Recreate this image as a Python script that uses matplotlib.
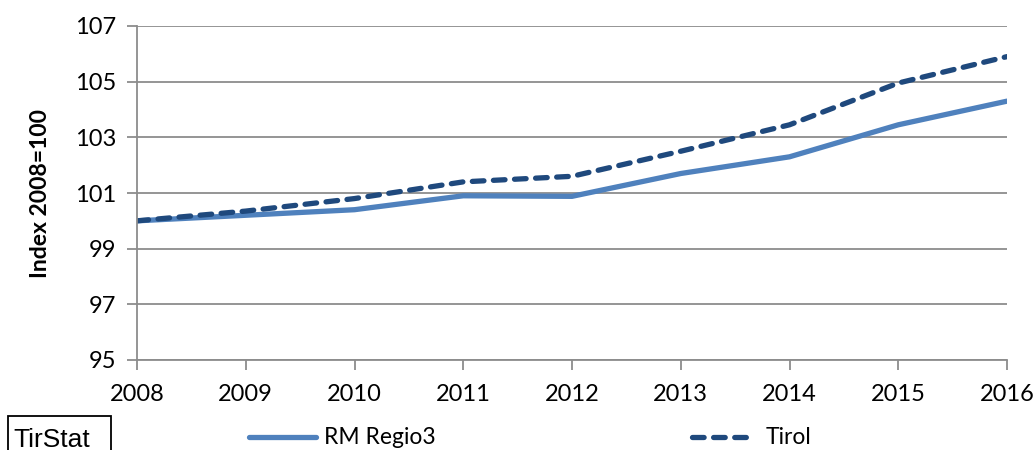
import matplotlib
matplotlib.use("Agg")
import matplotlib.pyplot as plt
from matplotlib.lines import Line2D
from matplotlib.patches import Rectangle

years = [2008, 2009, 2010, 2011, 2012, 2013, 2014, 2015, 2016]
rm_regio3 = [100.0, 100.2, 100.4, 100.9, 100.88, 101.7, 102.3, 103.45, 104.3]
tirol = [100.0, 100.35, 100.8, 101.4, 101.6, 102.5, 103.45, 104.95, 105.9]
y_ticks = [95, 97, 99, 101, 103, 105, 107]
series_names = ['RM Regio3', 'Tirol']

plt.rcParams['font.family'] = ['Lato', 'DejaVu Sans']

W, H = 1036, 450
fig = plt.figure(figsize=(W/100, H/100), dpi=100)
ax = fig.add_axes([137/W, 1-360/H, (1007-137)/W, (360-26)/H])

c_solid = '#4F81BD'
c_dash = '#1F497D'
lw = 3.8
dash = (0, (2.2, 1.8))

ax.plot(years, rm_regio3, color=c_solid, lw=lw, solid_capstyle='round', solid_joinstyle='round')
ax.plot(years, tirol, color=c_dash, lw=lw, ls=dash, dash_capstyle='round')

ax.set_xlim(2008, 2016)
ax.set_ylim(95, 107)
ax.set_xticks(years)
ax.set_yticks(y_ticks)
ax.yaxis.grid(True, color='#8C8C8C', lw=1.3)
ax.set_axisbelow(True)
for s in ['top', 'right']:
    ax.spines[s].set_visible(False)
for s in ['left', 'bottom']:
    ax.spines[s].set_color('#8C8C8C')
    ax.spines[s].set_linewidth(1.3)
ax.tick_params(axis='both', colors='#8C8C8C', width=1.3, length=7, labelcolor='black', labelsize=17)
ax.tick_params(axis='x', pad=10)
ax.tick_params(axis='y', pad=8)
ax.set_ylabel('Index 2008=100', fontsize=16.5, fontweight='bold', labelpad=17)

# legend drawn in figure pixel coordinates
ly = 1 - 437/H
fig.add_artist(Line2D([249/W, 316/W], [ly, ly], color=c_solid, lw=lw, solid_capstyle='round'))
fig.text(324/W, ly, series_names[0], fontsize=16.5, va='center', ha='left')
fig.add_artist(Line2D([692/W, 750/W], [ly, ly], color=c_dash, lw=lw, ls=(0, (2.2, 1.8)), dash_capstyle='round'))
fig.text(766/W, ly, series_names[1], fontsize=16.5, va='center', ha='left')

# TirStat box (clipped at bottom edge)
fig.add_artist(Rectangle((8/W, -0.05), (111-8)/W, 0.05 + (450-416)/H, transform=fig.transFigure,
                         fc='white', ec='black', lw=1.3))
fig.text(13/W, 1-447/H, 'TirStat', fontsize=19, family=['Liberation Sans', 'DejaVu Sans'],
         va='baseline', ha='left')

fig.savefig('out.png', dpi=100)
